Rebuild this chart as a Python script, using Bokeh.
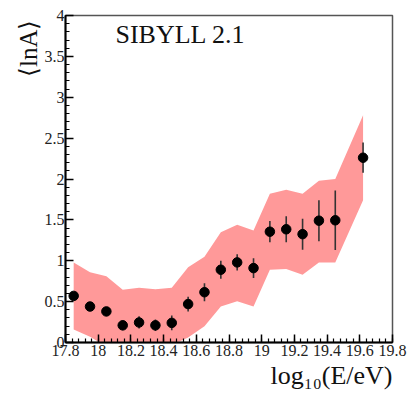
from bokeh.plotting import figure
from bokeh.models import Range1d, FixedTicker, Label, ColumnDataSource, Title
from bokeh.embed import file_html
from bokeh.resources import INLINE
import numpy as np

# ---- data ----
log_e = [17.85, 17.95, 18.05, 18.15, 18.25, 18.35, 18.45, 18.55, 18.65,
         18.75, 18.85, 18.95, 19.05, 19.15, 19.25, 19.35, 19.45, 19.62]
mean_lna = [0.57, 0.44, 0.38, 0.21, 0.245, 0.21, 0.24, 0.47, 0.615,
            0.89, 0.98, 0.91, 1.355, 1.385, 1.325, 1.49, 1.495, 2.26]
stat_err = [0.04, 0.04, 0.04, 0.06, 0.075, 0.07, 0.09, 0.09, 0.11,
            0.11, 0.10, 0.12, 0.13, 0.16, 0.19, 0.25, 0.365, 0.185]
sys_upper = [0.98, 0.86, 0.81, 0.645, 0.67, 0.65, 0.67, 0.92, 1.05,
             1.35, 1.44, 1.37, 1.82, 1.87, 1.82, 1.98, 2.00, 2.78]
sys_lower = [0.16, 0.07, -0.05, -0.10, -0.10, -0.10, -0.03, 0.06, 0.20,
             0.44, 0.505, 0.44, 0.89, 0.90, 0.83, 0.98, 0.98, 1.74]

x_ticks = [17.8, 18.0, 18.2, 18.4, 18.6, 18.8, 19.0, 19.2, 19.4, 19.6, 19.8]
x_tick_labels = ["17.8", "18", "18.2", "18.4", "18.6", "18.8", "19", "19.2", "19.4", "19.6", "19.8"]
y_ticks = [0, 0.5, 1, 1.5, 2, 2.5, 3, 3.5, 4]
y_tick_labels = ["0", "0.5", "1", "1.5", "2", "2.5", "3", "3.5", "4"]

model_name = "SIBYLL 2.1"
x_title = "log\u2081\u2080(E/eV)"
y_title = "\u27e8lnA\u27e9"
FONT = "Liberation Serif"

src = ColumnDataSource(dict(
    x=log_e, y=mean_lna,
    lo=[m - e for m, e in zip(mean_lna, stat_err)],
    hi=[m + e for m, e in zip(mean_lna, stat_err)],
    sl=sys_lower, su=sys_upper,
))

p = figure(width=409, height=393, x_range=Range1d(17.8, 19.8), y_range=Range1d(0, 4),
           output_backend="svg", toolbar_location=None,
           min_border_left=65, min_border_right=17, min_border_top=15, min_border_bottom=51)
p.background_fill_color = "white"
p.border_fill_color = "white"
p.xgrid.visible = False
p.ygrid.visible = False
p.outline_line_color = "#555555"
p.outline_line_width = 1.5

# systematic band
p.varea(x="x", y1="sl", y2="su", source=src, fill_color="#ff9999", fill_alpha=1.0)
# statistical error bars
p.segment(x0="x", y0="lo", x1="x", y1="hi", source=src, line_color="#333333", line_width=1.6)
# points
p.scatter(x="x", y="y", source=src, size=9.5, fill_color="black", line_color="black")

# axes
xminor = list(np.round(np.arange(17.8, 19.8001, 0.04), 2))
p.xaxis.ticker = FixedTicker(ticks=x_ticks, minor_ticks=xminor)
p.xaxis.major_label_overrides = {t: l for t, l in zip(x_ticks, x_tick_labels)}
yminor = list(np.round(np.arange(0, 4.0001, 0.1), 2))
p.yaxis.ticker = FixedTicker(ticks=y_ticks, minor_ticks=yminor)
p.yaxis.major_label_overrides = {t: l for t, l in zip(y_ticks, y_tick_labels)}

for ax in (p.xaxis[0], p.yaxis[0]):
    ax.axis_line_color = "black"
    ax.axis_line_width = 2
    ax.major_tick_in = 8
    ax.major_tick_out = 0
    ax.minor_tick_in = 4
    ax.minor_tick_out = 0
    ax.major_tick_line_color = "black"
    ax.minor_tick_line_color = "black"
    ax.major_tick_line_width = 1.5
    ax.minor_tick_line_width = 1.2
    ax.major_label_text_font = FONT
    ax.major_label_text_font_size = "16px"
    ax.major_label_text_color = "#222222"
p.xaxis.major_label_standoff = 2
p.yaxis.major_label_standoff = 1

# texts
p.add_layout(Label(x=17.8, y=4, x_offset=50, y_offset=-19, text=model_name,
                   text_font=FONT, text_font_size="26px", text_color="#111111",
                   text_baseline="alphabetic", text_align="left"))
p.add_layout(Title(text=x_title, align="right", standoff=0, offset=0,
                   text_font=FONT, text_font_size="26px", text_font_style="normal",
                   text_color="#111111"), "below")
p.add_layout(Title(text=y_title, align="right", standoff=0, offset=4,
                   text_font=FONT, text_font_size="25px", text_font_style="normal",
                   text_color="#111111"), "left")

open("out.html", "w").write(file_html(p, INLINE))
